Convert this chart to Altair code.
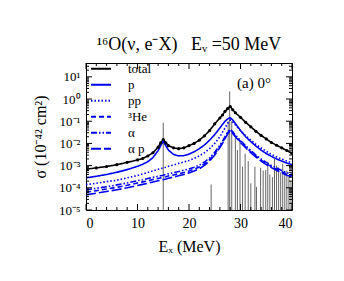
import altair as alt
import pandas as pd

# ---------------- data ----------------
EX = [0, 2, 4, 6, 8, 10, 11, 12, 13, 14, 14.5, 15, 15.5, 16, 17, 18, 19, 20, 21, 22, 23, 24, 25,
      26, 26.5, 27, 27.5, 28, 28.5, 29, 30, 31, 32, 33, 34, 35, 36, 37, 38, 39, 40]

TOTAL = [6.9e-4, 7.9e-4, 9.1e-4, 1.1e-3, 1.4e-3, 1.8e-3, 2.1e-3, 2.7e-3, 3.8e-3, 6.8e-3, 1.05e-2,
         1.5e-2, 1.07e-2, 7.9e-3, 6.3e-3, 5.8e-3, 6.3e-3, 7.9e-3, 1.0e-2, 1.4e-2, 2.2e-2, 3.8e-2,
         7.6e-2, 0.14, 0.19, 0.28, 0.37, 0.46, 0.33, 0.24, 0.15, 8.9e-2, 5.6e-2, 3.5e-2, 2.3e-2,
         1.6e-2, 1.1e-2, 8.3e-3, 6.3e-3, 4.8e-3, 3.6e-3]

P = [2.8e-4, 3.3e-4, 4.0e-4, 5.0e-4, 6.6e-4, 9.3e-4, 1.15e-3, 1.5e-3, 2.3e-3, 4.7e-3, 7.9e-3,
     1.26e-2, 7.9e-3, 5.0e-3, 3.2e-3, 2.75e-3, 2.8e-3, 3.3e-3, 4.2e-3, 5.8e-3, 8.5e-3, 1.4e-2,
     2.5e-2, 5.0e-2, 7.1e-2, 0.10, 0.126, 0.145, 0.112, 7.9e-2, 3.8e-2, 2.0e-2, 1.2e-2, 7.6e-3,
     5.0e-3, 3.5e-3, 2.6e-3, 2.0e-3, 1.6e-3, 1.3e-3, 1.1e-3]

PP = [1.4e-4, 1.6e-4, 1.9e-4, 2.2e-4, 2.8e-4, 3.6e-4, 4.2e-4, 4.9e-4, 5.8e-4, 6.8e-4, 7.2e-4,
      7.9e-4, 8.5e-4, 9.3e-4, 1.07e-3, 1.26e-3, 1.45e-3, 1.7e-3, 2.1e-3, 2.75e-3, 3.8e-3, 5.8e-3,
      1.0e-2, 2.0e-2, 3.2e-2, 5.0e-2, 7.9e-2, 0.112, 9.3e-2, 6.8e-2, 3.8e-2, 2.2e-2, 1.4e-2,
      9.1e-3, 6.2e-3, 4.4e-3, 3.2e-3, 2.5e-3, 1.95e-3, 1.6e-3, 1.3e-3]

HE3 = [6.3e-5, 7.4e-5, 8.8e-5, 1.06e-4, 1.3e-4, 1.65e-4, 1.85e-4, 2.05e-4, 2.35e-4, 2.65e-4, 2.8e-4,
       2.95e-4, 3.15e-4, 3.4e-4, 3.8e-4, 4.3e-4, 4.9e-4, 5.7e-4, 6.9e-4, 8.6e-4, 1.2e-3, 1.85e-3,
       3.4e-3, 7.2e-3, 1.1e-2, 1.8e-2, 2.9e-2, 4.0e-2, 3.0e-2, 2.15e-2, 1.2e-2, 7.0e-3, 4.2e-3,
       2.65e-3, 1.75e-3, 1.22e-3, 9.0e-4, 6.8e-4, 5.3e-4, 4.2e-4, 3.5e-4]

ALPHA = [8.1e-5, 9.5e-5, 1.12e-4, 1.35e-4, 1.66e-4, 2.1e-4, 2.3e-4, 2.6e-4, 2.95e-4, 3.3e-4, 3.5e-4,
         3.7e-4, 4.0e-4, 4.3e-4, 4.8e-4, 5.4e-4, 6.2e-4, 7.1e-4, 8.5e-4, 1.05e-3, 1.45e-3, 2.2e-3,
         4.0e-3, 8.3e-3, 1.26e-2, 2.0e-2, 3.2e-2, 4.3e-2, 3.3e-2, 2.4e-2, 1.35e-2, 7.9e-3, 4.8e-3,
         3.0e-3, 2.0e-3, 1.4e-3, 1.02e-3, 7.8e-4, 6.0e-4, 4.8e-4, 4.0e-4]

ALPHAP = [4.8e-5, 5.7e-5, 6.8e-5, 8.2e-5, 1.0e-4, 1.28e-4, 1.43e-4, 1.6e-4, 1.83e-4, 2.07e-4, 2.2e-4,
          2.33e-4, 2.5e-4, 2.7e-4, 3.05e-4, 3.5e-4, 4.0e-4, 4.7e-4, 5.7e-4, 7.2e-4, 1.02e-3, 1.6e-3,
          3.0e-3, 6.5e-3, 1.0e-2, 1.65e-2, 2.7e-2, 3.8e-2, 2.8e-2, 2.0e-2, 1.1e-2, 6.4e-3, 3.8e-3,
          2.4e-3, 1.6e-3, 1.1e-3, 8.1e-4, 6.1e-4, 4.7e-4, 3.7e-4, 3.1e-4]

# discrete-state strengths (grey vertical lines)
LINE_X = [15.0, 24.3, 27.6, 27.9, 28.3, 29.0, 29.4, 29.9, 30.4, 30.9, 31.5, 32.0, 32.8, 33.1, 33.9,
          34.4, 34.9, 35.3, 35.7, 36.2, 36.6, 37.0, 37.4, 37.8, 38.2, 38.6, 39.0, 39.4, 39.8]
LINE_H = [0.085, 1.4e-4, 0.1, 2.2, 0.1, 1.8e-2, 5e-3, 1.4e-2, 9e-4, 3.5e-3, 1.6e-3, 1.6e-4, 9e-4,
          1.1e-4, 8e-4, 6e-4, 6.3e-4, 1.5e-3, 4e-4, 3e-4, 2e-3, 1e-3, 8e-4, 5e-4, 1.2e-3, 4e-4,
          6e-4, 3e-4, 2e-4]

SERIES = ["total", "p", "pp", "³He", "α", "α p"]
SERIES_VALUES = [TOTAL, P, PP, HE3, ALPHA, ALPHAP]

X_MAJOR = [0, 10, 20, 30, 40]
X_MINOR = [2, 4, 6, 8, 12, 14, 16, 18, 22, 24, 26, 28, 32, 34, 36, 38]
Y_MAJOR = [1e-5, 1e-4, 1e-3, 1e-2, 1e-1, 1e0, 1e1]
Y_MINOR = [k * d for d in [1e-5, 1e-4, 1e-3, 1e-2, 1e-1, 1e0] for k in range(2, 10)] + [20, 30, 40]

TITLE = "¹⁶O(ν, e⁻X)\u00a0\u00a0\u00a0Eᵥ\u00a0=50\u00a0MeV"

# ---------------- styling ----------------
FONT = "Liberation Serif"
BLUE = "#0000f0"
COLORS = ["black", BLUE, BLUE, BLUE, BLUE, BLUE]
DASHES = [[1, 0], [1, 0], [1.5, 2], [5, 3], [6, 2, 1.5, 2, 1.5, 2], [10, 3]]
W, H = 206, 147

rows = []
for name, vals in zip(SERIES, SERIES_VALUES):
    for x, v in zip(EX, vals):
        rows.append({"Ex": x, "sigma": v, "series": name})
curves = pd.DataFrame(rows)
total_df = pd.DataFrame({"Ex": EX, "sigma": TOTAL})
lines_df = pd.DataFrame({"Ex": LINE_X, "sigma": LINE_H, "base": [1e-5] * len(LINE_X)})

xscale = alt.Scale(domain=[0, 40], nice=False, zero=False)
yscale = alt.Scale(type="log", domain=[1e-5, 42], nice=False)

label_expr = ("datum.value < 5e-5 ? '10⁻⁵' : datum.value < 5e-4 ? '10⁻⁴' : "
              "datum.value < 5e-3 ? '10⁻³' : datum.value < 5e-2 ? '10⁻²' : "
              "datum.value < 0.5 ? '10⁻¹' : datum.value < 5 ? '10⁰' : '10¹'")

xaxis = alt.Axis(values=X_MAJOR, ticks=False, domain=False, grid=False, labelFont=FONT,
                 labelFontSize=14, labelPadding=6, labelColor="black",
                 title="Eₓ (MeV)", titleFont=FONT, titleFontSize=16, titleFontWeight="normal",
                 titleColor="black", titleX=W / 2, titleY=36, titleBaseline="middle")
yaxis = alt.Axis(values=Y_MAJOR, ticks=False, domain=False, grid=False, labelFont=FONT,
                 labelFontSize=13, labelPadding=6, labelColor="black", labelExpr=label_expr,
                 title="σ (10⁻⁴² cm²)", titleFont=FONT, titleFontSize=16, titleFontWeight="normal",
                 titleColor="black", titleX=-46, titleY=H / 2, titleAngle=-90,
                 titleAlign="center", titleBaseline="middle")

spectral = alt.Chart(lines_df).mark_rule(color="#666666", strokeWidth=1, clip=True).encode(
    x=alt.X("Ex:Q", scale=xscale, axis=xaxis),
    y=alt.Y("sigma:Q", scale=yscale, axis=yaxis),
    y2="base:Q",
)

curve_layer = alt.Chart(curves).mark_line(strokeWidth=1.6, clip=True).encode(
    x=alt.X("Ex:Q", scale=xscale),
    y=alt.Y("sigma:Q", scale=yscale),
    color=alt.Color("series:N", scale=alt.Scale(domain=SERIES, range=COLORS),
                    legend=alt.Legend(title=None)),
    strokeDash=alt.StrokeDash("series:N", scale=alt.Scale(domain=SERIES, range=DASHES),
                              legend=alt.Legend(title=None)),
    order=alt.Order("Ex:Q"),
)

dots = alt.Chart(total_df).mark_circle(color="black", size=10, opacity=1, clip=True).encode(
    x=alt.X("Ex:Q", scale=xscale),
    y=alt.Y("sigma:Q", scale=yscale),
)

def xticks(vals, length):
    df = pd.DataFrame({"Ex": vals})
    b = alt.Chart(df).mark_rule(color="black", strokeWidth=1)
    return [
        b.encode(x=alt.X("Ex:Q", scale=xscale), y=alt.value(H), y2=alt.value(H - length)),
        b.encode(x=alt.X("Ex:Q", scale=xscale), y=alt.value(0), y2=alt.value(length)),
    ]

def yticks(vals, length):
    df = pd.DataFrame({"sigma": vals})
    b = alt.Chart(df).mark_rule(color="black", strokeWidth=1)
    return [
        b.encode(y=alt.Y("sigma:Q", scale=yscale), x=alt.value(0), x2=alt.value(length)),
        b.encode(y=alt.Y("sigma:Q", scale=yscale), x=alt.value(W), x2=alt.value(W - length)),
    ]

tick_layers = xticks(X_MAJOR, 6) + xticks(X_MINOR, 3) + yticks(Y_MAJOR, 6) + yticks(Y_MINOR, 3)

panel_label = alt.Chart(pd.DataFrame({"t": ["(a) 0°"]})).mark_text(
    font=FONT, fontSize=15, align="left", baseline="middle", color="black"
).encode(text="t:N", x=alt.value(151), y=alt.value(20))

chart = alt.layer(spectral, curve_layer, dots, *tick_layers, panel_label).properties(
    width=W, height=H,
    title=alt.TitleParams(TITLE, font=FONT, fontSize=18,
                          fontWeight="normal", color="black", anchor="middle", offset=7),
    autosize=alt.AutoSizeParams(type="none"),
    padding={"left": 78, "top": 55, "right": 44, "bottom": 63},
).configure_view(stroke="black", strokeWidth=1).configure_legend(
    orient="none", legendX=4, legendY=-2, symbolType="stroke", symbolSize=400,
    symbolStrokeWidth=2, labelFont=FONT, labelFontSize=13, labelColor="black",
    clipHeight=15.6, rowPadding=0, padding=0, labelOffset=16,
)

chart.save("out.html", embed_options={"renderer": "svg", "actions": False})
